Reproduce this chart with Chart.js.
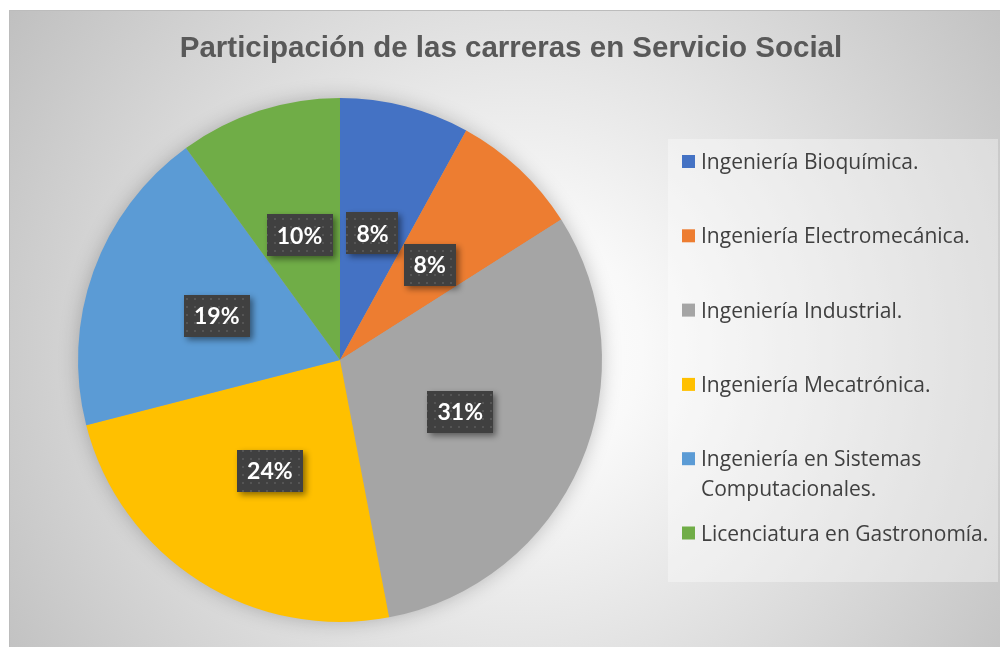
<!DOCTYPE html>
<html lang="es">
<head>
<meta charset="UTF-8">
<title>Participación de las carreras en Servicio Social</title>
<script src="https://cdn.jsdelivr.net/npm/chart.js"></script>
<style>
  html, body { margin: 0; padding: 0; background: #fff; }
  canvas { display: block; }
</style>
</head>
<body>
<canvas id="pieChart" width="1000" height="647"></canvas>
<script>
const chartTitle = 'Participación de las carreras en Servicio Social';
const careers = [
  'Ingeniería Bioquímica.',
  'Ingeniería Electromecánica.',
  'Ingeniería Industrial.',
  'Ingeniería Mecatrónica.',
  'Ingeniería en Sistemas Computacionales.',
  'Licenciatura en Gastronomía.'
];
const shares = [8, 8, 31, 24, 19, 10];
const sliceColors = ['#4472C4', '#ED7D31', '#A5A5A5', '#FFC000', '#5B9BD5', '#70AD47'];

// small dotted tile used behind the percentage labels
function dotPattern(ctx) {
  const tile = document.createElement('canvas');
  tile.width = 8; tile.height = 8;
  const t = tile.getContext('2d');
  t.fillStyle = '#404040';
  t.fillRect(0, 0, 8, 8);
  t.fillStyle = '#555555';
  t.fillRect(2, 2, 2, 2);
  return ctx.createPattern(tile, 'repeat');
}

// frame background, legend panel and title
const backdrop = {
  id: 'backdrop',
  beforeDraw(chart) {
    const ctx = chart.ctx;
    ctx.save();
    ctx.fillStyle = '#ffffff';
    ctx.fillRect(0, 0, chart.width, chart.height);

    const g = ctx.createRadialGradient(520, 350, 0, 520, 350, 610);
    g.addColorStop(0, '#ffffff');
    g.addColorStop(0.2, '#f9f9f9');
    g.addColorStop(1, '#c0c0c0');
    ctx.fillStyle = g;
    ctx.fillRect(9, 10, chart.width - 9, chart.height - 10);
    ctx.strokeStyle = '#bcbcbc';
    ctx.lineWidth = 1;
    ctx.beginPath();
    ctx.moveTo(9.5, chart.height);
    ctx.lineTo(9.5, 10.5);
    ctx.lineTo(chart.width, 10.5);
    ctx.stroke();

    ctx.fillStyle = 'rgba(255,255,255,0.35)';
    ctx.fillRect(668, 139, 330, 443);

    ctx.fillStyle = '#595959';
    ctx.font = 'bold 29.5px "Liberation Sans", Arial, sans-serif';
    ctx.textAlign = 'center';
    ctx.textBaseline = 'alphabetic';
    ctx.fillText(chartTitle, 511, 57);
    ctx.restore();
  },
  beforeDatasetsDraw(chart) {
    const arc = chart.getDatasetMeta(0).data[0];
    if (!arc) return;
    const {x, y, outerRadius} = arc.getProps(['x', 'y', 'outerRadius'], true);
    const ctx = chart.ctx;
    ctx.save();
    ctx.shadowColor = 'rgba(0,0,0,0.25)';
    ctx.shadowBlur = 20;
    ctx.fillStyle = '#a5a5a5';
    ctx.beginPath();
    ctx.arc(x, y, outerRadius - 1, 0, Math.PI * 2);
    ctx.fill();
    ctx.restore();
  }
};

// dark boxes with the percentage of each slice
const sliceLabels = {
  id: 'sliceLabels',
  afterDatasetsDraw(chart) {
    const ctx = chart.ctx;
    const pattern = dotPattern(ctx);
    const values = chart.data.datasets[0].data;
    chart.getDatasetMeta(0).data.forEach((arc, i) => {
      const p = arc.tooltipPosition(true);
      const text = values[i] + '%';
      ctx.save();
      ctx.font = 'bold 23px Lato, sans-serif';
      const w = ctx.measureText(text).width + 20;
      const h = 42;
      ctx.shadowColor = 'rgba(0,0,0,0.45)';
      ctx.shadowBlur = 6;
      ctx.shadowOffsetX = 3;
      ctx.shadowOffsetY = 3;
      ctx.fillStyle = pattern;
      ctx.fillRect(Math.round(p.x - w / 2), Math.round(p.y - h / 2), Math.round(w), h);
      ctx.shadowColor = 'transparent';
      ctx.fillStyle = '#ffffff';
      ctx.textAlign = 'center';
      ctx.textBaseline = 'middle';
      ctx.fillText(text, p.x, p.y + 1);
      ctx.restore();
    });
  }
};

// legend drawn to the right, wrapping long names
const sideLegend = {
  id: 'sideLegend',
  afterDraw(chart) {
    const ctx = chart.ctx;
    const labels = chart.data.labels;
    const colors = chart.data.datasets[0].backgroundColor;
    const textX = 701, maxW = 294, step = 74.3, lineH = 30;
    ctx.save();
    ctx.font = '21px "Open Sans", sans-serif';
    ctx.textBaseline = 'alphabetic';
    labels.forEach((label, i) => {
      const base = 169 + i * step;
      ctx.fillStyle = colors[i];
      ctx.fillRect(682, base - 14, 13, 13);
      const words = label.split(' ');
      const lines = [];
      let line = '';
      words.forEach(wd => {
        const test = line ? line + ' ' + wd : wd;
        if (line && ctx.measureText(test).width > maxW) {
          lines.push(line);
          line = wd;
        } else {
          line = test;
        }
      });
      lines.push(line);
      ctx.fillStyle = '#404040';
      lines.forEach((ln, k) => ctx.fillText(ln, textX, base + k * lineH));
    });
    ctx.restore();
  }
};

new Chart(document.getElementById('pieChart'), {
  type: 'pie',
  data: {
    labels: careers,
    datasets: [{
      data: shares,
      backgroundColor: sliceColors,
      borderWidth: 0
    }]
  },
  options: {
    responsive: false,
    animation: false,
    devicePixelRatio: 1,
    layout: { padding: { left: 78, right: 398, top: 98, bottom: 25 } },
    plugins: {
      legend: { display: false },
      title: { display: false },
      tooltip: { enabled: false }
    }
  },
  plugins: [backdrop, sliceLabels, sideLegend]
});
</script>
</body>
</html>
